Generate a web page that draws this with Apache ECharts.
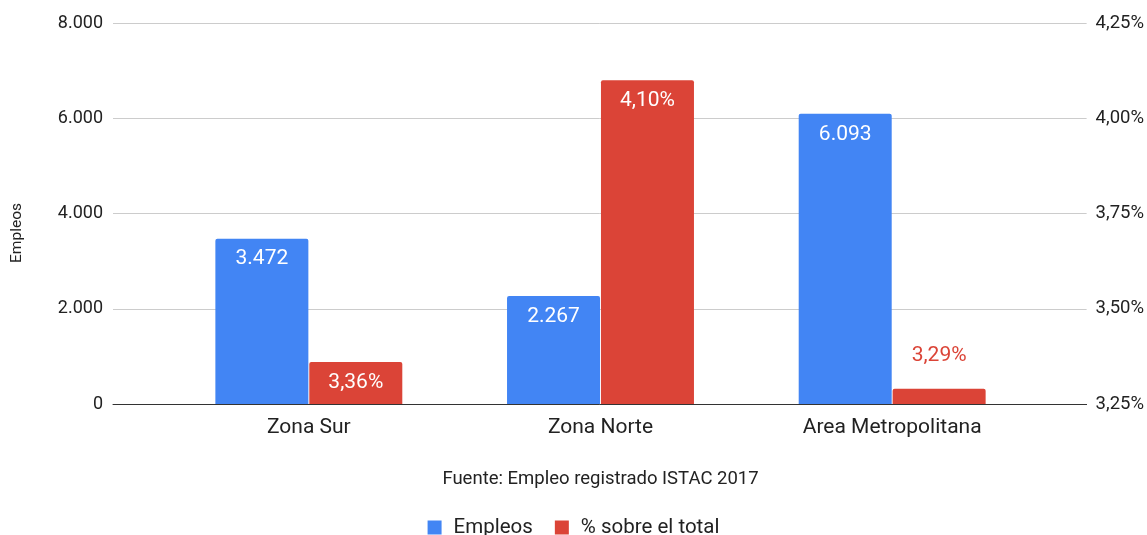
<!DOCTYPE html>
<html><head><meta charset="utf-8">
<script src="https://cdn.jsdelivr.net/npm/echarts@6/dist/echarts.min.js"></script>
<style>html,body{margin:0;padding:0;background:#fff}#c{width:1147px;height:535px}</style>
</head><body><div id="c"></div>
<script>
const categories = ['Zona Sur', 'Zona Norte', 'Area Metropolitana'];
const empleos = [3472, 2267, 6093];
const porcentaje = [3.36, 4.10, 3.29];
const leftTicks = {min: 0, max: 8000, interval: 2000};
const rightTicks = {min: 3.25, max: 4.25, interval: 0.25};
const seriesNames = ['Empleos', '% sobre el total'];
const axisTitle = 'Empleos';
const sourceText = 'Fuente: Empleo registrado ISTAC 2017';

const BLUE = '#4285f4', RED = '#db4437';
const FONT = 'Roboto';
const TXT = '#222';
const fmtThousands = v => String(Math.round(v)).replace(/\B(?=(\d{3})+(?!\d))/g, '.');
const fmtPct = v => v.toFixed(2).replace('.', ',') + '%';

const chart = echarts.init(document.getElementById('c'));
const gridTop = 23, gridBottom = 131;
chart.setOption({
  animation: false,
  textStyle: {fontFamily: FONT},
  grid: [
    {left: 113, right: 59, top: gridTop, bottom: gridBottom},
    {left: 163, right: 109, top: gridTop, bottom: gridBottom}
  ],
  xAxis: [
    {gridIndex: 0, type: 'value', min: 0, max: 1, axisLabel: {show: false}, axisTick: {show: false}, splitLine: {show: false},
     axisLine: {show: true, lineStyle: {color: '#333', width: 1}}},
    {gridIndex: 1, type: 'category', data: categories, axisLine: {show: false}, axisTick: {show: false},
     axisLabel: {fontSize: 21, color: TXT, margin: 13, fontFamily: FONT},
     name: sourceText, nameLocation: 'middle', nameGap: 66,
     nameTextStyle: {fontSize: 18.5, color: TXT, fontFamily: FONT}}
  ],
  yAxis: [
    {gridIndex: 0, type: 'value', position: 'left', min: leftTicks.min, max: leftTicks.max, interval: leftTicks.interval,
     axisLine: {show: false}, axisTick: {show: false},
     axisLabel: {formatter: fmtThousands, fontSize: 18, color: TXT, margin: 10, fontFamily: FONT},
     splitLine: {lineStyle: {color: '#cccccc', width: 1}}},
    {gridIndex: 0, type: 'value', position: 'right', min: rightTicks.min, max: rightTicks.max, interval: rightTicks.interval,
     axisLine: {show: false}, axisTick: {show: false},
     axisLabel: {formatter: fmtPct, fontSize: 18.5, color: TXT, margin: 9, fontFamily: FONT},
     splitLine: {show: false}},
    {gridIndex: 1, type: 'value', min: leftTicks.min, max: leftTicks.max, show: false},
    {gridIndex: 1, type: 'value', min: rightTicks.min, max: rightTicks.max, show: false}
  ],
  legend: {
    top: 512, left: 'center', icon: 'rect', itemWidth: 14, itemHeight: 14, itemGap: 22,
    textStyle: {fontSize: 20.5, color: TXT, fontFamily: FONT, padding: [0, 0, 0, 7]},
    data: seriesNames
  },
  graphic: [{
    type: 'text', x: 17, y: 233, rotation: Math.PI / 2,
    style: {text: axisTitle, fontSize: 15.5, fill: TXT, fontFamily: FONT, align: 'center', verticalAlign: 'middle'}
  }],
  series: [
    {name: seriesNames[0], type: 'bar', xAxisIndex: 1, yAxisIndex: 2, data: empleos,
     barWidth: 93, barGap: '1%',
     itemStyle: {color: BLUE, borderRadius: [2, 2, 0, 0]},
     label: {show: true, position: 'insideTop', distance: 10, color: '#fff', fontSize: 21, fontFamily: FONT,
             formatter: p => fmtThousands(p.value)}},
    {name: seriesNames[1], type: 'bar', xAxisIndex: 1, yAxisIndex: 3,
     data: porcentaje.map((v, i) => {
       const item = {value: v};
       if (v - rightTicks.min < 0.05) {
         item.label = {position: 'top', distance: 23, color: RED};
       }
       return item;
     }),
     barWidth: 93,
     itemStyle: {color: RED, borderRadius: [2, 2, 0, 0]},
     label: {show: true, position: 'insideTop', distance: 10, color: '#fff', fontSize: 21, fontFamily: FONT,
             formatter: p => fmtPct(p.value)}}
  ]
});
</script></body></html>
